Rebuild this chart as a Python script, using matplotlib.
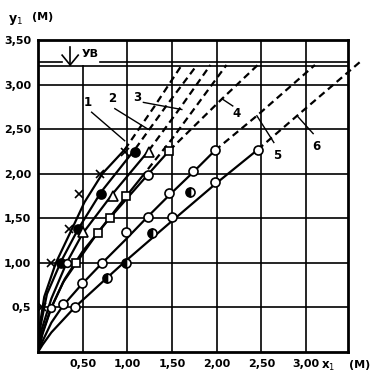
import matplotlib
matplotlib.use("Agg")
import matplotlib.pyplot as plt

plt.rcParams['font.family'] = ['DejaVu Sans']

# ---------------- data ----------------
x_ticks = [0.5, 1.0, 1.5, 2.0, 2.5, 3.0]
x_tick_labels = ["0,50", "1,00", "1,50", "2,00", "2,50", "3,00"]
y_ticks = [0.5, 1.0, 1.5, 2.0, 2.5, 3.0, 3.5]
y_tick_labels = ["0,5", "1,00", "1,50", "2,00", "2,50", "3,00", "3,50"]

ub_level_hi = 3.25
ub_level_lo = 3.21

# curve 1 (x markers)
c1_mx = [0.04, 0.15, 0.35, 0.46, 0.69, 0.97]
c1_my = [0.50, 1.00, 1.38, 1.77, 2.00, 2.24]
c1_lx = [0.0, 0.02, 0.07, 0.20, 0.38, 0.52, 0.72, 0.97]
c1_ly = [0.0, 0.30, 0.62, 1.00, 1.38, 1.68, 2.00, 2.27]
c1_dx = [0.97, 1.30, 1.61]
c1_dy = [2.27, 2.75, 3.22]

# curve 2 (filled circles)
c2_mx = [0.26, 0.45, 0.71, 1.09]
c2_my = [1.00, 1.38, 1.77, 2.24]
c2_lx = [0.0, 0.03, 0.10, 0.26, 0.45, 0.71, 1.09]
c2_ly = [0.0, 0.30, 0.65, 1.02, 1.38, 1.80, 2.28]
c2_dx = [1.09, 1.45, 1.78]
c2_dy = [2.28, 2.78, 3.22]

# curve 3 (triangles)
c3_mx = [0.50, 0.84, 1.24]
c3_my = [1.35, 1.75, 2.24]
c3_cx = [0.15, 0.32]
c3_cy = [0.49, 1.00]
c3_lx = [0.0, 0.04, 0.15, 0.32, 0.50, 0.84, 1.24]
c3_ly = [0.0, 0.25, 0.60, 1.00, 1.33, 1.78, 2.26]
c3_dx = [1.24, 1.60, 1.93]
c3_dy = [2.26, 2.75, 3.22]

# unlabeled line (squares, lower part)
c7_mx = [0.43, 0.67, 0.99]
c7_my = [1.00, 1.34, 1.75]
c7_lx = [0.0, 0.05, 0.15, 0.28, 0.43, 0.67, 0.99, 1.15]
c7_ly = [0.0, 0.20, 0.50, 0.78, 1.00, 1.34, 1.75, 1.95]
c7_dx = [1.15, 1.50, 2.11]
c7_dy = [1.95, 2.39, 3.22]

# curve 4 (squares / circles)
c4_mx = [0.81, 1.47]
c4_my = [1.50, 2.26]
c4_cx = [1.23]
c4_cy = [1.99]
c4_lx = [0.0, 0.05, 0.15, 0.30, 0.50, 0.81, 1.23, 1.47]
c4_ly = [0.0, 0.22, 0.50, 0.82, 1.13, 1.51, 1.99, 2.26]
c4_dx = [1.47, 2.06, 2.46]
c4_dy = [2.26, 2.84, 3.22]

# curve 5 (open circles)
c5_mx = [0.28, 0.49, 0.72, 0.98, 1.23, 1.47, 1.74, 1.98]
c5_my = [0.54, 0.77, 1.00, 1.35, 1.52, 1.78, 2.03, 2.27]
c5_lx = [0.0, 0.05, 0.15, 0.28, 0.49, 0.72, 0.98, 1.23, 1.47, 1.74, 1.98]
c5_ly = [0.0, 0.12, 0.33, 0.52, 0.76, 1.00, 1.26, 1.52, 1.76, 2.02, 2.26]
c5_dx = [1.98, 2.45, 3.10]
c5_dy = [2.26, 2.65, 3.22]

# curve 6 (half-filled and open circles)
c6_hx = [0.77, 0.98, 1.28, 1.70]
c6_hy = [0.83, 1.00, 1.34, 1.79]
c6_ox = [0.41, 1.50, 1.98, 2.46]
c6_oy = [0.50, 1.52, 1.91, 2.27]
c6_lx = [0.0, 0.05, 0.15, 0.41, 0.77, 0.98, 1.28, 1.50, 1.98, 2.46]
c6_ly = [0.0, 0.08, 0.22, 0.50, 0.83, 1.02, 1.28, 1.47, 1.88, 2.27]
c6_dx = [2.46, 2.90, 3.60]
c6_dy = [2.27, 2.65, 3.25]

# curve labels: text position, leader start, leader end
curve_labels = ["1", "2", "3", "4", "5", "6"]
label_pos = [(0.56, 2.80), (0.83, 2.84), (1.11, 2.86), (2.22, 2.68), (2.68, 2.20), (3.12, 2.31)]
leader_from = [(0.60, 2.69), (0.86, 2.73), (1.18, 2.80), (2.06, 2.84), (2.45, 2.65), (2.90, 2.65)]
leader_to = [(0.97, 2.37), (1.23, 2.50), (1.61, 2.72), (2.18, 2.76), (2.64, 2.35), (3.08, 2.45)]

# ---------------- figure ----------------
fig = plt.figure(figsize=(3.90, 3.84), dpi=100)
ax = fig.add_axes([38 / 390, 1 - 352 / 384, 310 / 390, 312 / 384])
ax.set_xlim(0, 3.47)
ax.set_ylim(0, 3.49)

# grid
for xv in x_ticks:
    top = ub_level_lo if xv == 0.5 else 3.49
    ax.plot([xv, xv], [0, top], color="black", lw=1.2, zorder=1)
for yv in y_ticks[:-1]:
    ax.axhline(yv, color="black", lw=1.2, zorder=1)

# UB lines
ax.axhline(ub_level_lo, color="black", lw=1.2, zorder=1)
ax.plot([0, 0.27], [ub_level_hi, ub_level_hi], color="black", lw=1.2, zorder=1)
ax.plot([0.69, 3.47], [ub_level_hi, ub_level_hi], color="black", lw=1.2, zorder=1)
ax.plot([0.36, 0.36], [ub_level_lo + 0.005, 3.42], color="black", lw=1.2, zorder=3)
ax.plot([0.27, 0.36, 0.45], [3.33, 3.22, 3.33], color="black", lw=1.2, zorder=3)
ax.text(0.58, 3.34, "УВ", fontsize=8, fontweight="bold", ha="center", va="center")

lw = 1.6
dash = (0, (3.2, 2.0))
for lx, ly, dx, dy in [(c1_lx, c1_ly, c1_dx, c1_dy), (c2_lx, c2_ly, c2_dx, c2_dy),
                       (c3_lx, c3_ly, c3_dx, c3_dy), (c7_lx, c7_ly, c7_dx, c7_dy),
                       (c4_lx, c4_ly, c4_dx, c4_dy), (c5_lx, c5_ly, c5_dx, c5_dy)]:
    ax.plot(lx, ly, color="black", lw=lw, zorder=3, solid_capstyle="round")
    ax.plot(dx, dy, color="black", lw=lw, ls=dash, zorder=3)
ax.plot(c6_lx, c6_ly, color="black", lw=lw, zorder=3)
ax.plot(c6_dx, c6_dy, color="black", lw=lw, ls=dash, zorder=3, clip_on=False)

ms = 6.5
mk = dict(ls="none", color="black", mec="black", mew=1.2, zorder=5)
ax.plot(c1_mx, c1_my, marker="x", ms=5.5, **mk)
ax.plot(c2_mx, c2_my, marker="o", ms=ms, mfc="black", **mk)
ax.plot(c3_mx, c3_my, marker="^", ms=ms, mfc="white", **mk)
ax.plot(c3_cx, c3_cy, marker="o", ms=ms - 1, mfc="white", **mk)
ax.plot(c7_mx, c7_my, marker="s", ms=ms - 0.5, mfc="white", **mk)
ax.plot(c4_mx, c4_my, marker="s", ms=ms - 0.5, mfc="white", **mk)
ax.plot(c4_cx, c4_cy, marker="o", ms=ms, mfc="white", **mk)
ax.plot(c5_mx, c5_my, marker="o", ms=ms, mfc="white", **mk)
ax.plot(c6_hx, c6_hy, marker="o", ms=ms, mfc="black", mfcalt="white", fillstyle="left", **mk)
ax.plot(c6_ox, c6_oy, marker="o", ms=ms, mfc="white", **mk)

for lab, (tx, ty), (fx, fy), (ex, ey) in zip(curve_labels, label_pos, leader_from, leader_to):
    ax.text(tx, ty, lab, fontsize=8.5, fontweight="bold", ha="center", va="center")
    ax.plot([fx, ex], [fy, ey], color="black", lw=1.0, zorder=4)

# axes styling
for sp in ax.spines.values():
    sp.set_linewidth(2.0)
ax.set_xticks(x_ticks)
ax.set_xticklabels(x_tick_labels)
ax.set_yticks(y_ticks)
ax.set_yticklabels(y_tick_labels)
ax.tick_params(length=0, pad=5, labelsize=8)
for t in ax.get_xticklabels() + ax.get_yticklabels():
    t.set_fontweight("bold")

fig.text(328 / 390, 1 - 366 / 384, "x$_1$", fontsize=8.5, fontweight="bold", ha="center", va="center")
fig.text(360 / 390, 1 - 365 / 384, "(M)", fontsize=8, fontweight="bold", ha="center", va="center")
fig.text(16 / 390, 1 - 20 / 384, "y$_1$", fontsize=9, fontweight="bold", ha="center", va="center")
fig.text(43 / 390, 1 - 17 / 384, "(M)", fontsize=8, fontweight="bold", ha="center", va="center")

fig.savefig("out.png", dpi=100, facecolor="white")
